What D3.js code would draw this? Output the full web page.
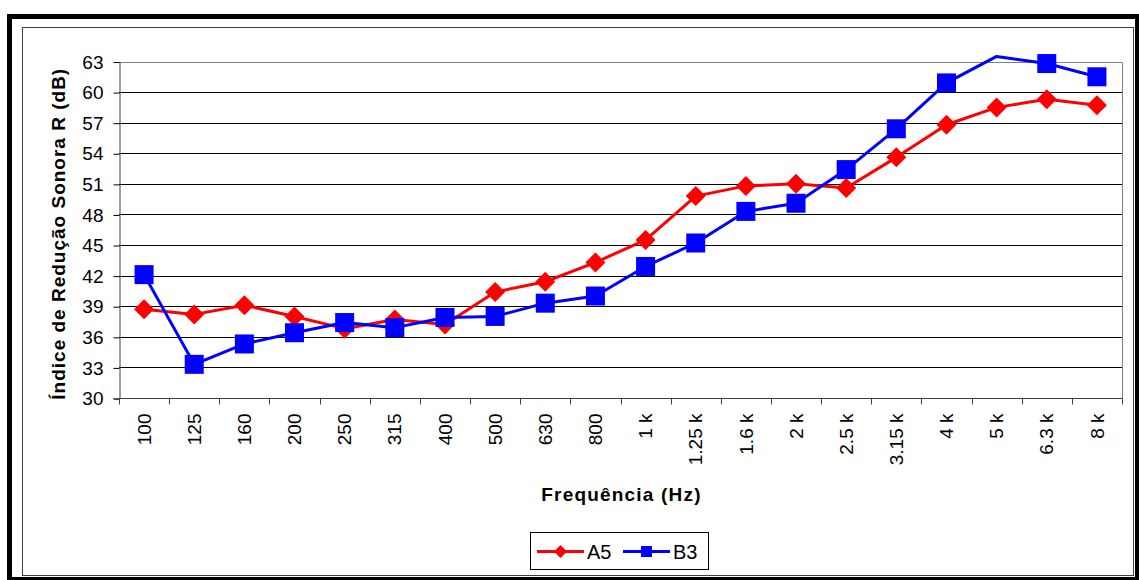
<!DOCTYPE html>
<html>
<head>
<meta charset="utf-8">
<script src="https://cdn.jsdelivr.net/npm/d3@7"></script>
<style>
  html, body { margin: 0; padding: 0; background: #fff; }
  svg { display: block; font-family: "Liberation Sans", Arial, sans-serif; }
</style>
</head>
<body>
<svg id="chart" width="1139" height="580"></svg>
<script>
const categories = ["100","125","160","200","250","315","400","500","630","800",
  "1 k","1.25 k","1.6 k","2 k","2.5 k","3.15 k","4 k","5 k","6.3 k","8 k"];
const seriesA5 = [38.7,38.2,39.1,38.0,36.8,37.7,37.2,40.4,41.4,43.3,
  45.5,49.8,50.8,51.0,50.6,53.6,56.8,58.5,59.3,58.7];
const seriesB3 = [42.1,33.3,35.3,36.4,37.4,36.9,37.9,38.0,39.3,40.0,
  42.9,45.2,48.3,49.1,52.4,56.4,60.9,63.5,62.8,61.5];
const yTicks = [30,33,36,39,42,45,48,51,54,57,60,63];
const seriesNames = ["A5","B3"];
const seriesColors = ["#FF0000","#0000FF"];

(function () {
const svg = d3.select("#chart");

// frames
svg.append("rect").attr("x",9.5).attr("y",16.5).attr("width",1128).attr("height",563)
  .attr("fill","none").attr("stroke","#000").attr("stroke-width",5);
svg.append("rect").attr("x",22.5).attr("y",27.5).attr("width",1111).attr("height",548)
  .attr("fill","#fff").attr("stroke","#404040").attr("stroke-width",1);

const pL = 119, pR = 1122, pT = 61.5, pB = 398;
const x = d3.scaleBand().domain(categories).range([pL, pR]);
const y = d3.scaleLinear().domain([30,63]).range([pB, pT]);
const cx = c => x(c) + x.bandwidth()/2;

// gridlines
svg.append("g").selectAll("line").data(yTicks.filter(v => v > 30)).join("line")
  .attr("x1", pL).attr("x2", pR)
  .attr("y1", d => Math.round(y(d)) + 0.5).attr("y2", d => Math.round(y(d)) + 0.5)
  .attr("stroke", d => d === 63 ? "#808080" : "#000").attr("stroke-width",1);
// plot border right
svg.append("line").attr("x1", pR + 0.5).attr("x2", pR + 0.5)
  .attr("y1", Math.round(pT) + 0.5).attr("y2", pB)
  .attr("stroke","#808080");

// y axis
const yAxis = d3.axisLeft(y).tickValues(yTicks).tickSize(6).tickPadding(10);
const gy = svg.append("g").attr("transform",`translate(${pL + 0.5},0.5)`).call(yAxis);
gy.select(".domain").attr("stroke","#404040");
gy.selectAll(".tick line").attr("stroke","#000");
gy.selectAll(".tick text").attr("font-size",19).attr("fill","#000")
  .attr("font-family","Liberation Sans, Arial, sans-serif");

// x axis
const gx = svg.append("g").attr("transform",`translate(0,${Math.round(pB) + 0.5})`);
gx.append("line").attr("x1", pL).attr("x2", pR + 1).attr("stroke","#404040");
const tickPos = categories.map(c => x(c)).concat([pR]);
gx.selectAll("line.tk").data(tickPos).join("line").attr("class","tk")
  .attr("x1", d => Math.round(d) + 0.5).attr("x2", d => Math.round(d) + 0.5)
  .attr("y1", 0).attr("y2", 6).attr("stroke","#404040");
gx.selectAll("text").data(categories).join("text")
  .attr("transform", d => `translate(${cx(d)},15) rotate(-90)`)
  .attr("text-anchor","end").attr("dy","0.35em")
  .attr("font-size",19).attr("fill","#000").text(d => d);

// titles
svg.append("text").attr("x", (pL + pR)/2 + 1).attr("y", 501)
  .attr("text-anchor","middle").attr("font-size",19).attr("font-weight","bold")
  .attr("letter-spacing","1.2px").text("Frequência (Hz)");
svg.append("text").attr("transform", `translate(65,${(pT + pB)/2 + 4}) rotate(-90)`)
  .attr("text-anchor","middle").attr("font-size",19).attr("font-weight","bold")
  .attr("letter-spacing","1px").text("Índice de Redução Sonora R (dB)");

// series
const line = d3.line().x((d,i) => cx(categories[i])).y(d => y(d));
const diamond = (s) => `M0,${-s}L${s},0L0,${s}L${-s},0Z`;
const square = (s) => `M${-s},${-s}H${s}V${s}H${-s}Z`;

[seriesA5, seriesB3].forEach((data, k) => {
  const g = svg.append("g");
  g.append("path").datum(data).attr("d", line).attr("fill","none")
    .attr("stroke", seriesColors[k]).attr("stroke-width",3).attr("stroke-linejoin","round");
  g.selectAll("path.m").data(data.map((v,i) => ({v, c: categories[i]})).filter(p => p.v <= 63))
    .join("path").attr("class","m")
    .attr("transform", p => `translate(${cx(p.c)},${y(p.v)})`)
    .attr("d", k === 0 ? diamond(10) : square(9.5))
    .attr("fill", seriesColors[k]);
});

// legend
const lg = svg.append("g");
lg.append("rect").attr("x",530.5).attr("y",532.5).attr("width",178).attr("height",37)
  .attr("fill","#fff").attr("stroke","#000");
const legX = [537, 623];
seriesNames.forEach((name, k) => {
  const x0 = legX[k];
  lg.append("line").attr("x1", x0).attr("x2", x0 + 47).attr("y1", 551.5).attr("y2", 551.5)
    .attr("stroke", seriesColors[k]).attr("stroke-width",3);
  lg.append("path").attr("transform",`translate(${x0 + 23.5},551.5)`)
    .attr("d", k === 0 ? diamond(6.5) : square(5.5)).attr("fill", seriesColors[k]);
  lg.append("text").attr("x", x0 + 50).attr("y", 551.5).attr("dy","0.35em")
    .attr("font-size",20).attr("fill","#000").text(name);
});
})();
</script>
</body>
</html>
